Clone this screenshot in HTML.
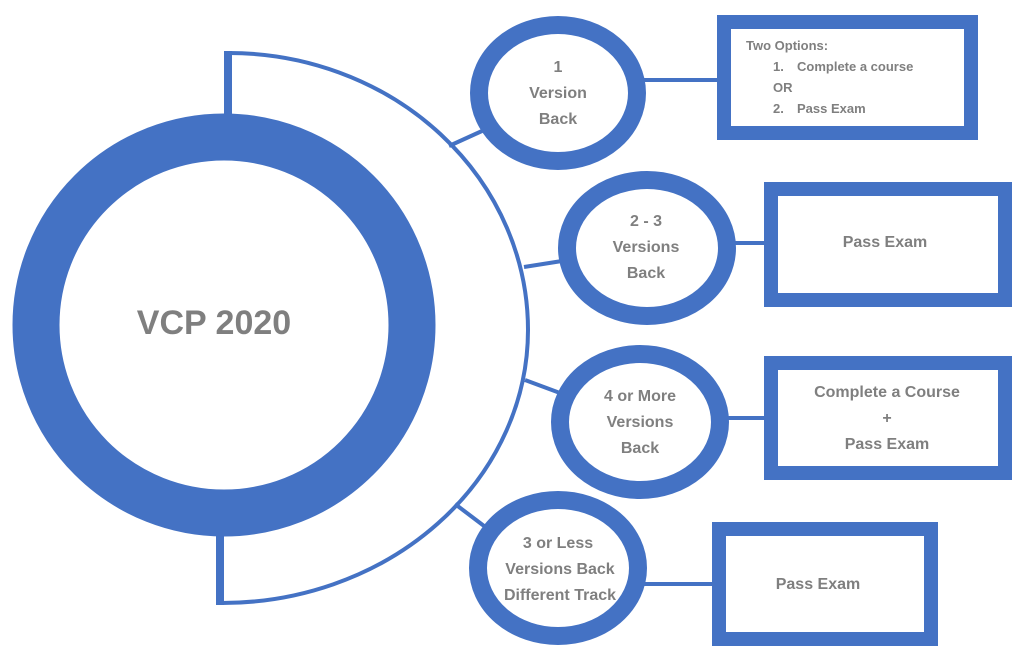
<!DOCTYPE html>
<html><head><meta charset="utf-8"><style>
html,body{margin:0;padding:0;background:#fff;}
svg{display:block;}
text{font-family:"Liberation Sans",sans-serif;font-weight:bold;fill:#7f7f7f;}
</style></head><body>
<svg width="1024" height="664" viewBox="0 0 1024 664" xmlns="http://www.w3.org/2000/svg">
<g stroke="#4472c4" fill="none">
<path d="M 229 53 A 299 277 0 0 1 528 330 A 306 273 0 0 1 220 603" stroke-width="4"/>
<line x1="228" y1="51" x2="228" y2="118" stroke-width="8"/>
<line x1="220" y1="605" x2="220" y2="532" stroke-width="8"/>
<line x1="449" y1="146" x2="482" y2="131" stroke-width="4"/>
<line x1="640" y1="80" x2="718" y2="80" stroke-width="4"/>
<line x1="524" y1="267" x2="562" y2="261" stroke-width="4"/>
<line x1="730" y1="243" x2="765" y2="243" stroke-width="4"/>
<line x1="525" y1="380" x2="560" y2="393" stroke-width="4"/>
<line x1="722" y1="418" x2="765" y2="418" stroke-width="4"/>
<line x1="455" y1="504" x2="492" y2="532" stroke-width="4"/>
<line x1="640" y1="584" x2="713" y2="584" stroke-width="4"/>
<circle cx="224" cy="325" r="188" stroke-width="47" fill="#fff"/>
<ellipse cx="558" cy="93" rx="79" ry="68" stroke-width="18" fill="#fff"/>
<ellipse cx="647" cy="248" rx="80" ry="68" stroke-width="18" fill="#fff"/>
<ellipse cx="640" cy="422" rx="80" ry="68" stroke-width="18" fill="#fff"/>
<ellipse cx="558" cy="568" rx="80" ry="68" stroke-width="18" fill="#fff"/>
<rect x="724" y="22" width="247" height="111" stroke-width="14" fill="#fff"/>
<rect x="771" y="189" width="234" height="111" stroke-width="14" fill="#fff"/>
<rect x="771" y="363" width="234" height="110" stroke-width="14" fill="#fff"/>
<rect x="719" y="529" width="212" height="110" stroke-width="14" fill="#fff"/>
</g>
<text x="214" y="334" font-size="34" text-anchor="middle">VCP 2020</text>
<g font-size="16" text-anchor="middle">
<text x="558" y="72">1</text><text x="558" y="98">Version</text><text x="558" y="124">Back</text>
<text x="646" y="226">2 - 3</text><text x="646" y="252">Versions</text><text x="646" y="278">Back</text>
<text x="640" y="401">4 or More</text><text x="640" y="427">Versions</text><text x="640" y="453">Back</text>
<text x="558" y="548">3 or Less</text><text x="560" y="574">Versions Back</text><text x="560" y="600">Different Track</text>
<text x="885" y="247">Pass Exam</text>
<text x="887" y="397">Complete a Course</text><text x="887" y="423">+</text><text x="887" y="449">Pass Exam</text>
<text x="818" y="589">Pass Exam</text>
</g>
<g font-size="13">
<text x="746" y="50">Two Options:</text>
<text x="773" y="71">1.</text><text x="797" y="71">Complete a course</text>
<text x="773" y="92">OR</text>
<text x="773" y="113">2.</text><text x="797" y="113">Pass Exam</text>
</g>
</svg>
</body></html>
